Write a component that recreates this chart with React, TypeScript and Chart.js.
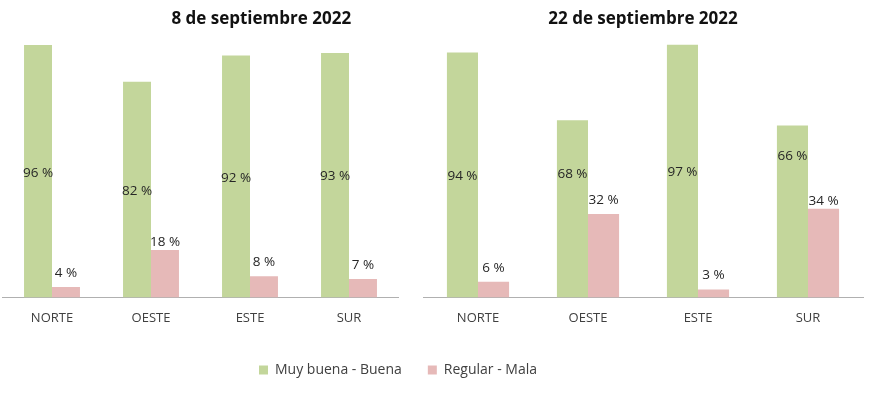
import React, { useEffect, useRef } from "react";
import { Chart, registerables } from "chart.js";

Chart.register(...registerables);

const categories = ["NORTE", "OESTE", "ESTE", "SUR"];
const seriesLabels = ["Muy buena - Buena", "Regular - Mala"];
const titleSept8 = "8 de septiembre 2022";
const titleSept22 = "22 de septiembre 2022";
const sept8Good = [96, 82, 92, 93];
const sept8Bad = [4, 18, 8, 7];
const sept22Good = [94, 68, 97, 66];
const sept22Bad = [6, 32, 3, 34];

const GREEN = "#c3d69b";
const PINK = "#e6b9b8";
const FONT = "'Open Sans', sans-serif";

const valueLabels = {
  id: "valueLabels",
  afterDatasetsDraw(chart: any, _args: any, opts: any) {
    const ctx = chart.ctx;
    ctx.save();
    ctx.font = `13.5px ${FONT}`;
    ctx.fillStyle = "#262626";
    ctx.textAlign = "center";
    ctx.textBaseline = "middle";
    chart.data.datasets.forEach((ds: any, i: number) => {
      const meta = chart.getDatasetMeta(i);
      meta.data.forEach((bar: any, j: number) => {
        const { x, y, base } = bar.getProps(["x", "y", "base"], true);
        const v = ds.data[j];
        let ty: number;
        if (i === 0) {
          ty = (y + base) / 2 + 1.5 + ((opts.goodShift && opts.goodShift[j]) || 0);
        } else {
          ty = y - 14 + ((opts.badShift && opts.badShift[j]) || 0);
        }
        ctx.fillText(`${v} %`, x, ty);
      });
    });
    ctx.restore();
  },
};

function makeConfig(
  title: string,
  good: number[],
  bad: number[],
  layoutPad: any,
  titlePadBottom: number,
  rightAxisWidth: number | null,
  goodShift: number[],
  badShift: number[]
): any {
  return {
    type: "bar",
    data: {
      labels: categories,
      datasets: [
        {
          label: seriesLabels[0],
          data: good,
          backgroundColor: GREEN,
          categoryPercentage: 0.565,
          barPercentage: 1,
        },
        {
          label: seriesLabels[1],
          data: bad,
          backgroundColor: PINK,
          categoryPercentage: 0.565,
          barPercentage: 1,
        },
      ],
    },
    options: {
      responsive: false,
      animation: false,
      devicePixelRatio: 1,
      layout: { padding: layoutPad },
      plugins: {
        legend: { display: false },
        tooltip: { enabled: false },
        title: {
          display: true,
          text: title,
          color: "#111111",
          font: { family: FONT, size: 17, weight: "bold", lineHeight: 1.2 },
          padding: { top: 8.5, bottom: titlePadBottom },
        },
        valueLabels: { goodShift, badShift },
      },
      scales: {
        x: {
          grid: { display: false, drawTicks: false },
          border: { display: true, color: "#b0b0b0", width: 1 },
          ticks: {
            color: "#404040",
            padding: 13.5,
            font: { family: FONT, size: 13, lineHeight: 1.2 },
          },
        },
        y: {
          display: rightAxisWidth !== null,
          position: "right",
          min: 0,
          max: 100,
          grid: { display: false, drawTicks: false },
          border: { display: false },
          ticks: { display: false },
          afterFit: (scale: any) => {
            if (rightAxisWidth !== null) scale.width = rightAxisWidth;
          },
        },
      },
    },
    plugins: [valueLabels],
  };
}

function legendConfig(): any {
  return {
    type: "bar",
    data: {
      labels: [],
      datasets: [
        { label: seriesLabels[0], data: [], backgroundColor: GREEN },
        { label: seriesLabels[1], data: [], backgroundColor: PINK },
      ],
    },
    options: {
      responsive: false,
      animation: false,
      devicePixelRatio: 1,
      plugins: {
        tooltip: { enabled: false },
        legend: {
          display: true,
          position: "top",
          labels: {
            boxWidth: 9,
            boxHeight: 9,
            padding: 26,
            color: "#404040",
            font: { family: FONT, size: 14 },
          },
        },
      },
      scales: { x: { display: false }, y: { display: false } },
    },
  };
}

export default function App() {
  const leftRef = useRef<HTMLCanvasElement>(null);
  const rightRef = useRef<HTMLCanvasElement>(null);
  const legendRef = useRef<HTMLCanvasElement>(null);

  useEffect(() => {
    const left = new Chart(
      leftRef.current!,
      makeConfig(
        titleSept8,
        sept8Good,
        sept8Bad,
        { left: 2.5, right: 0, top: 0, bottom: 6 },
        5.6,
        121.5,
        [0, 0, 0, 0],
        [0, 6, 0, 0]
      )
    );
    const right = new Chart(
      rightRef.current!,
      makeConfig(
        titleSept22,
        sept22Good,
        sept22Bad,
        { left: 20, right: 22, top: 0, bottom: 6 },
        8.1,
        null,
        [0, -36, 0, -57],
        [0, 0, 0, 6]
      )
    );
    const legend = new Chart(legendRef.current!, legendConfig());
    return () => {
      left.destroy();
      right.destroy();
      legend.destroy();
    };
  }, []);

  return (
    <div
      style={{
        position: "fixed",
        left: 0,
        top: 0,
        width: 885,
        height: 393,
        background: "#ffffff",
        overflow: "hidden",
      }}
    >
      <canvas
        ref={leftRef}
        width={520}
        height={346}
        style={{ position: "absolute", left: 0, top: 0, width: 520, height: 346 }}
      />
      <canvas
        ref={rightRef}
        width={482}
        height={346}
        style={{ position: "absolute", left: 403, top: 0, width: 482, height: 346 }}
      />
      <canvas
        ref={legendRef}
        width={796}
        height={120}
        style={{ position: "absolute", left: 0, top: 337, width: 796, height: 120 }}
      />
    </div>
  );
}
